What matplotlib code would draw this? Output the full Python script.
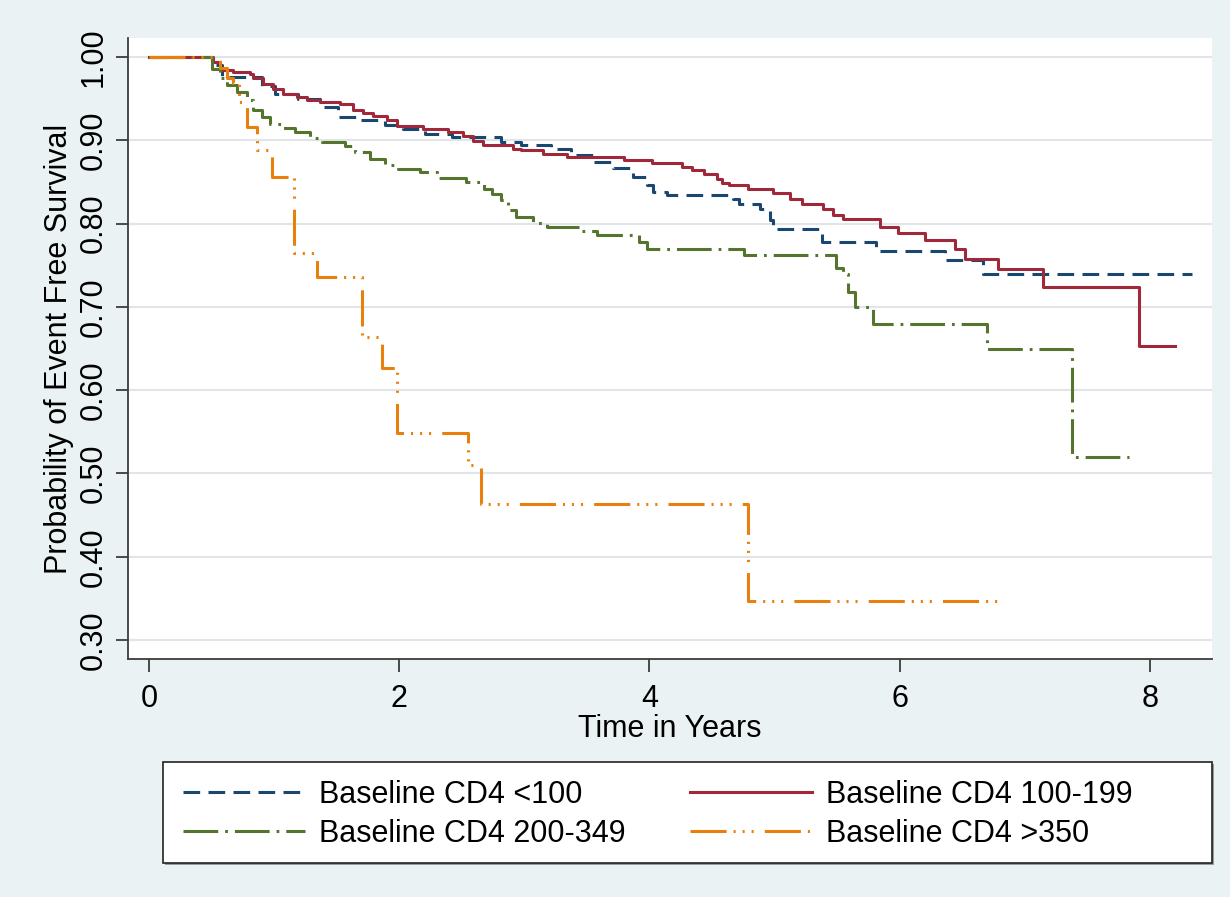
import matplotlib
matplotlib.use("Agg")
import matplotlib.pyplot as plt
from matplotlib.patches import Rectangle

plt.rcParams['font.family'] = ['Liberation Sans', 'DejaVu Sans']
plt.rcParams['lines.scale_dashes'] = False

# ---- data ----
labels = ["Baseline CD4 <100", "Baseline CD4 100-199",
          "Baseline CD4 200-349", "Baseline CD4 >350"]

t_lt100 = [0, 0.50, 0.58, 0.90, 1.01, 1.19, 1.37, 1.51, 1.69, 1.89, 2.03, 2.21, 2.42,
           2.81, 2.97, 3.21, 3.37, 3.55, 3.71, 3.87, 3.98, 4.03, 4.14, 4.67, 4.72,
           4.88, 4.96, 4.99, 5.38, 5.81, 6.36, 6.67]
s_lt100 = [1.0, 0.990, 0.976, 0.965, 0.956, 0.950, 0.940, 0.928, 0.924, 0.918, 0.914,
           0.908, 0.904, 0.898, 0.894, 0.889, 0.882, 0.874, 0.867, 0.856, 0.846, 0.838,
           0.834, 0.829, 0.824, 0.818, 0.804, 0.793, 0.778, 0.767, 0.756, 0.740]

t_100_199 = [0, 0.51, 0.57, 0.67, 0.81, 0.83, 0.91, 0.99, 1.07, 1.18, 1.26, 1.37, 1.53,
             1.63, 1.71, 1.79, 1.90, 1.98, 2.19, 2.39, 2.51, 2.59, 2.67, 2.91, 2.97,
             3.15, 3.34, 3.80, 4.02, 4.26, 4.34, 4.44, 4.54, 4.58, 4.64, 4.79, 4.99,
             5.12, 5.22, 5.39, 5.47, 5.55, 5.84, 5.99, 6.20, 6.44, 6.52, 6.79, 7.15, 7.91]
s_100_199 = [1.0, 0.994, 0.984, 0.982, 0.979, 0.975, 0.968, 0.962, 0.956, 0.952, 0.948,
             0.946, 0.943, 0.936, 0.933, 0.929, 0.924, 0.917, 0.913, 0.910, 0.905, 0.899,
             0.894, 0.890, 0.888, 0.883, 0.880, 0.876, 0.873, 0.868, 0.864, 0.860, 0.854,
             0.849, 0.846, 0.841, 0.837, 0.830, 0.824, 0.818, 0.810, 0.805, 0.796, 0.789,
             0.780, 0.769, 0.758, 0.746, 0.724, 0.653]

t_200_349 = [0, 0.50, 0.57, 0.62, 0.70, 0.78, 0.83, 0.90, 0.97, 1.06, 1.17, 1.29, 1.38,
             1.57, 1.65, 1.77, 1.89, 1.99, 2.17, 2.30, 2.53, 2.68, 2.74, 2.81, 2.87,
             2.93, 3.07, 3.18, 3.45, 3.58, 3.92, 3.98, 4.76, 5.49, 5.55, 5.59, 5.64,
             5.79, 6.70, 7.38]
s_200_349 = [1.0, 0.985, 0.975, 0.966, 0.958, 0.948, 0.936, 0.928, 0.920, 0.915, 0.910,
             0.903, 0.898, 0.893, 0.886, 0.878, 0.870, 0.866, 0.862, 0.855, 0.850, 0.842,
             0.835, 0.828, 0.816, 0.808, 0.801, 0.796, 0.791, 0.786, 0.778, 0.770, 0.762,
             0.747, 0.740, 0.718, 0.700, 0.679, 0.650, 0.520]

t_gt350 = [0, 0.57, 0.62, 0.67, 0.72, 0.78, 0.86, 0.98, 1.16, 1.34, 1.70, 1.86, 1.98,
           2.55, 2.65, 4.79]
s_gt350 = [1.0, 0.987, 0.975, 0.969, 0.946, 0.916, 0.888, 0.856, 0.765, 0.736, 0.664,
           0.627, 0.549, 0.510, 0.463, 0.347]

# last follow-up time of each group
t_end = [8.34, 8.20, 7.83, 6.79]

x_ticks = [0, 2, 4, 6, 8]
y_ticks = [0.30, 0.40, 0.50, 0.60, 0.70, 0.80, 0.90, 1.00]

colors = ["#1a476f", "#a0283a", "#55752f", "#e8800e"]
dashes = [(12, 6), None, (25, 5, 2, 5), (26, 5, 1.5, 5, 1.5, 5, 1.5, 8)]

series_t = [t_lt100, t_100_199, t_200_349, t_gt350]
series_s = [s_lt100, s_100_199, s_200_349, s_gt350]

# ---- figure ----
W, H = 1230, 897
fig = plt.figure(figsize=(W / 100, H / 100), dpi=100)
fig.patch.set_facecolor("#eaf2f3")

ax = fig.add_axes([128 / W, 1 - 659 / H, (1212 - 128) / W, (659 - 38) / H])
ax.set_facecolor("white")

handles = []
for t, s, te, c, d, lab in zip(series_t, series_s, t_end, colors, dashes, labels):
    xs = list(t) + [te]
    ys = list(s) + [s[-1]]
    ln, = ax.step(xs, ys, where="post", color=c, lw=2.2, label=lab, zorder=3)
    if d is not None:
        ln.set_dashes(d)
    handles.append(ln)

ax.set_xlim(-0.168, 8.497)
ax.set_ylim(0.2773, 1.0228)
ax.set_xticks(x_ticks)
ax.set_xticklabels([str(v) for v in x_ticks])
ax.set_yticks(y_ticks)
ax.set_yticklabels([f"{v:.2f}" for v in y_ticks], rotation=90, va="center")
ax.grid(axis="y", color="#dfe5e8", lw=1.5, zorder=0)
ax.set_axisbelow(True)

for sp in ["top", "right"]:
    ax.spines[sp].set_visible(False)
for sp in ["left", "bottom"]:
    ax.spines[sp].set_color("#3c3c3c")
    ax.spines[sp].set_linewidth(1.3)

ax.tick_params(axis="both", direction="out", length=9, width=1.3, color="#3c3c3c",
               labelsize=22, labelcolor="black")
ax.tick_params(axis="y", pad=5)
ax.tick_params(axis="x", pad=9)

ax.set_xlabel("Time in Years", fontsize=22, labelpad=0)
ax.set_ylabel("Probability of Event Free Survival", fontsize=22, labelpad=3)

# legend frame (with slight shadow)
lx0, ly0, lx1, ly1 = 163, 762, 1212, 863
fig.patches.append(Rectangle((lx0 / W + 2 / W, 1 - ly1 / H - 2 / H), (lx1 - lx0) / W, (ly1 - ly0) / H,
                             transform=fig.transFigure, facecolor="#9a9a9a", edgecolor="none", zorder=0))
fig.patches.append(Rectangle((lx0 / W, 1 - ly1 / H), (lx1 - lx0) / W, (ly1 - ly0) / H,
                             transform=fig.transFigure, facecolor="white", edgecolor="#222222",
                             lw=1.2, zorder=1))

order = [0, 2, 1, 3]
leg = fig.legend([handles[i] for i in order], [labels[i] for i in order],
                 ncol=2, loc="upper left", bbox_to_anchor=(183 / W, 1 - 780 / H),
                 frameon=False, fontsize=22, handlelength=4.0, handletextpad=0.45,
                 columnspacing=2.1, labelspacing=0.3, borderpad=0, borderaxespad=0)
leg.set_zorder(5)

fig.savefig("out.png", dpi=100, facecolor=fig.get_facecolor())
